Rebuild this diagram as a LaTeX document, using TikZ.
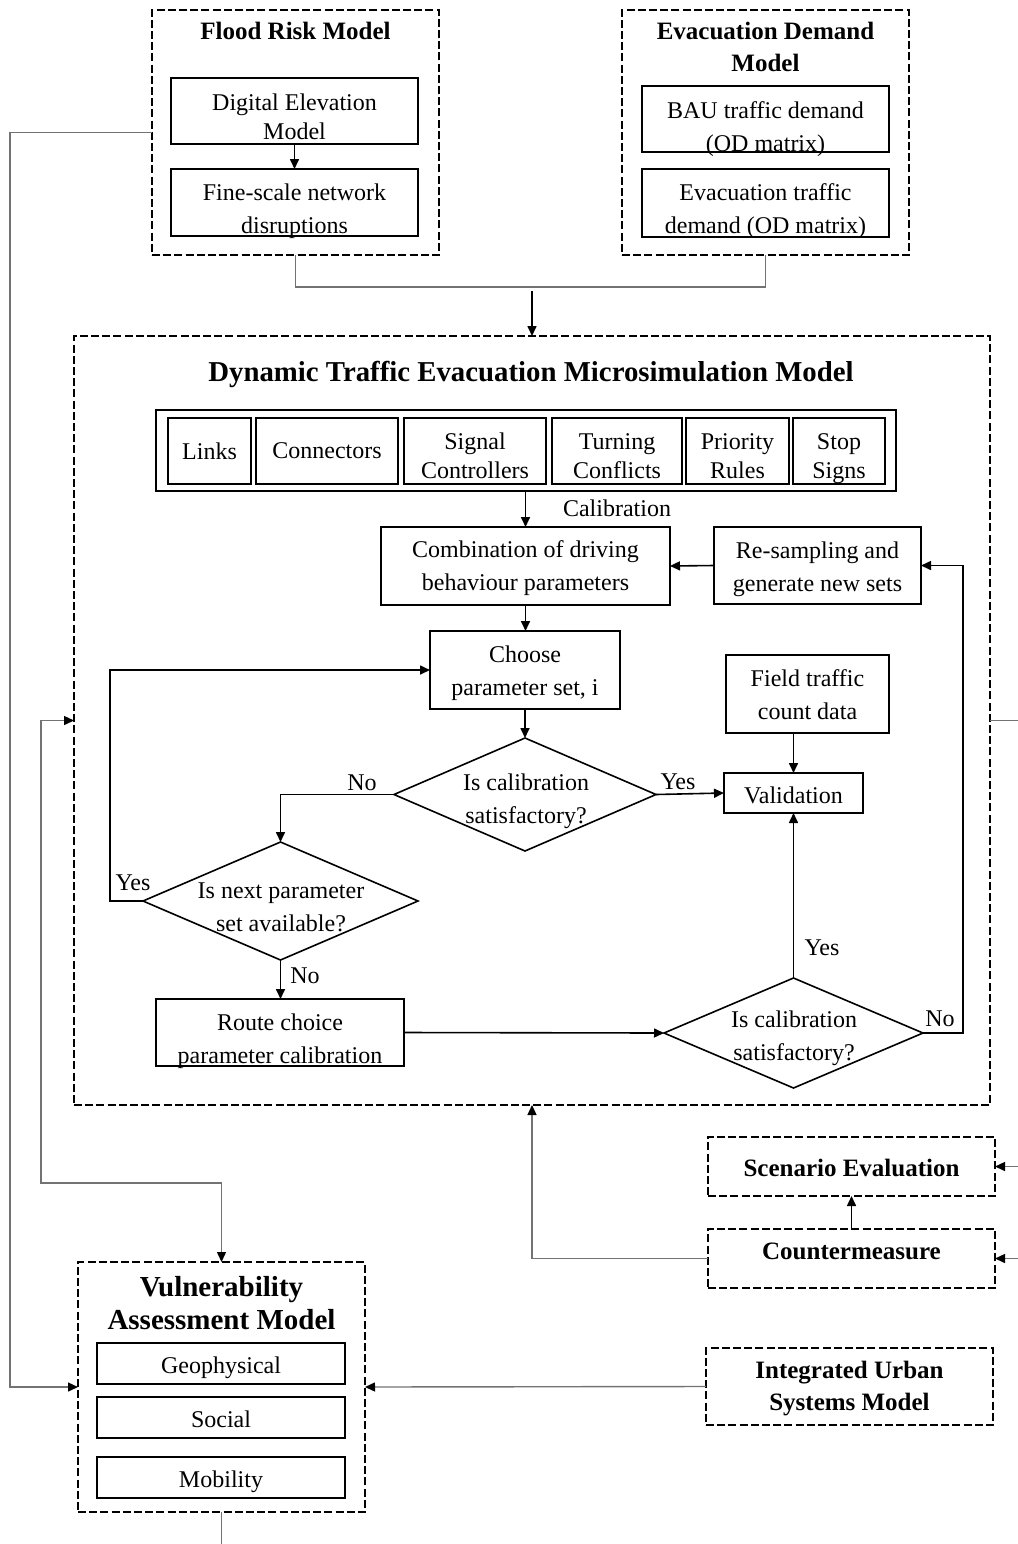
\documentclass[tikz,border=0pt]{standalone}
\usepackage{fontspec}
\setmainfont{Liberation Serif}
\usetikzlibrary{arrows.meta,shapes.geometric}
\begin{document}
\begin{tikzpicture}[x=0.5pt,y=-0.5pt,
  sz/.style 2 args={minimum width=#1*0.5pt, minimum height=#2*0.5pt},
  every node/.style={inner sep=0pt, outer sep=0pt, align=center,
    font=\fontsize{12}{16.5}\selectfont},
  group/.style={draw, line width=1.2pt, dash pattern=on 4pt off 1.6pt},
  box/.style={draw, line width=0.8pt},
  dia/.style={draw, line width=0.8pt, diamond},
  grptitle/.style={font=\fontsize{12.5}{16}\selectfont\bfseries},
  bigtitle/.style={font=\fontsize{14.4}{16.5}\selectfont\bfseries},
  stripfont/.style={font=\fontsize{12}{14.5}\selectfont},
  lbl/.style={font=\fontsize{12}{14}\selectfont},
  flow/.style={line width=0.8pt, -{Triangle[length=5pt,width=4.5pt]}},
  link/.style={draw=black!55, line width=0.7pt},
  linkar/.style={link, -{Triangle[length=5pt,width=4.5pt,color=black]}},
  linkboth/.style={link, {Triangle[length=5pt,width=4.5pt,color=black]}-{Triangle[length=5pt,width=4.5pt,color=black]}},
]
\useasboundingbox (0,0) rectangle (1018,1544);

% ---------- Flood risk model ----------
\node[group, sz={287}{245}] (flood) at (295.5,132.5) {};
\node[grptitle] (floodT) at (295.5,31) {Flood Risk Model};
\node[box, sz={247}{66}, label={[yshift=-2.75pt, font=\fontsize{12}{14.5}\selectfont]center:{Digital Elevation\\Model}}] (dem) at (294.5,111) {};
\node[box, sz={247}{67}, label={[yshift=-4.25pt]center:{Fine-scale network\\disruptions}}] (fine) at (294.5,202.5) {};
\draw[flow] (dem) -- (fine);

% ---------- Evacuation demand model ----------
\node[group, sz={287}{245}] (evac) at (765.5,132.5) {};
\node[grptitle] (evacT) at (765.5,47) {Evacuation Demand\\Model};
\node[box, sz={247}{66}, label={[yshift=-5pt]center:{BAU traffic demand\\(OD matrix)}}] (bau) at (765.5,119) {};
\node[box, sz={247}{68}, label={[yshift=-4pt]center:{Evacuation traffic\\demand (OD matrix)}}] (evd) at (765.5,203) {};

% ---------- Dynamic traffic evacuation microsimulation model ----------
\node[group, sz={916}{769}] (dtem) at (532,720.5) {};
\node[bigtitle] (dtemT) at (531,374.5) {Dynamic Traffic Evacuation Microsimulation Model};

\node[box, sz={740}{81}] (comp) at (526,450.5) {};
\node[box, sz={83}{66}, stripfont] (links) at (209.5,451) {Links};
\node[box, sz={142}{66}, stripfont] (conn) at (327,451) {Connectors};
\node[box, sz={142}{66}, label={[yshift=-2.5pt, stripfont]center:{Signal\\Controllers}}] (sig) at (475,451) {};
\node[box, sz={130}{66}, label={[yshift=-2.5pt, stripfont]center:{Turning\\Conflicts}}] (turn) at (617,451) {};
\node[box, sz={103}{66}, label={[yshift=-2.5pt, stripfont]center:{Priority\\Rules}}] (prio) at (737.5,451) {};
\node[box, sz={92}{66}, label={[yshift=-4pt, stripfont]center:{Stop\\Signs}}] (stop) at (839,451) {};

\node[box, sz={289}{78}, label={[yshift=-1.25pt]center:{Combination of driving\\behaviour parameters}}] (comb) at (525.5,566) {};
\node[box, sz={207}{77}, label={[yshift=-1.75pt]center:{Re-sampling and\\generate new sets}}] (resamp) at (817.5,565.5) {};
\node[box, sz={190}{78}, label={[yshift=-1.5pt]center:{Choose\\parameter set, i}}] (choose) at (525,670) {};
\node[box, sz={163}{78}, label={[yshift=-0.5pt]center:{Field traffic\\count data}}] (field) at (807.5,694) {};
\node[box, sz={139}{40}, label={[yshift=-1pt]center:{Validation}}] (valid) at (793.5,793) {};

\node[dia, sz={262}{113}] (d1) at (525,794.5) {};
\node (d1t) at (526,801) {Is calibration\\satisfactory?};
\node[dia, sz={275}{118}] (d2) at (280.5,901) {};
\node (d2t) at (281,907) {Is next parameter\\set available?};
\node[box, sz={248}{67}, label={[yshift=-4.5pt]center:{Route choice\\parameter calibration}}] (route) at (280,1032.5) {};
\node[dia, sz={259}{110}] (d3) at (793.5,1033) {};
\node (d3t) at (794,1038) {Is calibration\\satisfactory?};

\node[lbl] (calib) at (617,508) {Calibration};
\node[lbl] (yes1) at (678,782) {Yes};
\node[lbl] (no1) at (362,783) {No};
\node[lbl] (yes2) at (133,883) {Yes};
\node[lbl] (no2) at (305,976) {No};
\node[lbl] (yes3) at (822,948) {Yes};
\node[lbl] (no3) at (940,1019) {No};

\draw[flow] (comp.south -| comb.north) -- (comb.north);
\draw[flow] (resamp.west) -- (comb.east);
\draw[flow] (comb.south) -- (comb.south |- choose.north);
\draw[flow] (choose.south) -- (d1.north);
\draw[flow] (valid.north |- field.south) -- (valid.north);
\draw[flow] (d1.east) -- (valid.west);
\draw[flow] (d1.west) -| (d2.north);
\coordinate (loopX) at (110,0);
\draw[flow] (d2.west) -- (d2.west -| loopX) |- (choose.west);
\draw[flow] (d2.south) -- (d2.south |- route.north);
\draw[flow] (route.east) -- (d3.west);
\draw[flow] (d3.north) -- (valid.south);
\coordinate (backX) at (963,0);
\draw[flow] (d3.east) -- (d3.east -| backX) |- (resamp.east);

% ---------- lower blocks ----------
\node[group, sz={287}{250}] (vuln) at (221.5,1387) {};
\node[font=\fontsize{14.5}{16.5}\selectfont\bfseries] (vulnT) at (221.5,1303.5) {Vulnerability\\Assessment Model};
\node[box, sz={248}{41}, label={[yshift=-2pt]center:{Geophysical}}] (geo) at (221,1363.5) {};
\node[box, sz={248}{41}, label={[yshift=-1pt]center:{Social}}] (soc) at (221,1417.5) {};
\node[box, sz={248}{41}, label={[yshift=-2pt]center:{Mobility}}] (mob) at (221,1477.5) {};

\node[group, sz={287}{59}, label={[grptitle, yshift=-0.5pt]center:{Scenario Evaluation}}] (scen) at (851.5,1166.5) {};
\node[group, sz={287}{59}, label={[grptitle, yshift=3.5pt]center:{Countermeasure}}] (counter) at (851.5,1258.5) {};
\node[group, sz={287}{77}, label={[grptitle, yshift=-1pt]center:{Integrated Urban\\Systems Model}}] (integ) at (849.5,1386.5) {};

% ---------- links between models ----------
\coordinate (mergeTap) at (532,291);
\draw[link] (flood.south) -- ++(0,32) -| (evac.south);
\draw[flow] (mergeTap) -- (dtem.north);

\coordinate (lftX) at (10,0);
\draw[linkar] (flood.west) -- (flood.west -| lftX) |- (vuln.west);
\coordinate (lnkL) at (41,1183);
\draw[linkboth] (dtem.west) -| (lnkL) -| (vuln.north);
\draw[linkar] (counter.west) -| (dtem.south);
\draw[flow] (counter.north) -- (scen.south);
\draw[linkar] (integ.west) -- (vuln.east);

\coordinate (offR1) at (1018,720.5);
\coordinate (offR2) at (1018,1166.5);
\coordinate (offR3) at (1018,1258.5);
\coordinate (offB) at (221.5,1544);
\draw[link] (dtem.east) -- (offR1);
\draw[linkar] (offR2) -- (scen.east);
\draw[linkar] (offR3) -- (counter.east);
\draw[link] (vuln.south) -- (offB);
\end{tikzpicture}
\end{document}
